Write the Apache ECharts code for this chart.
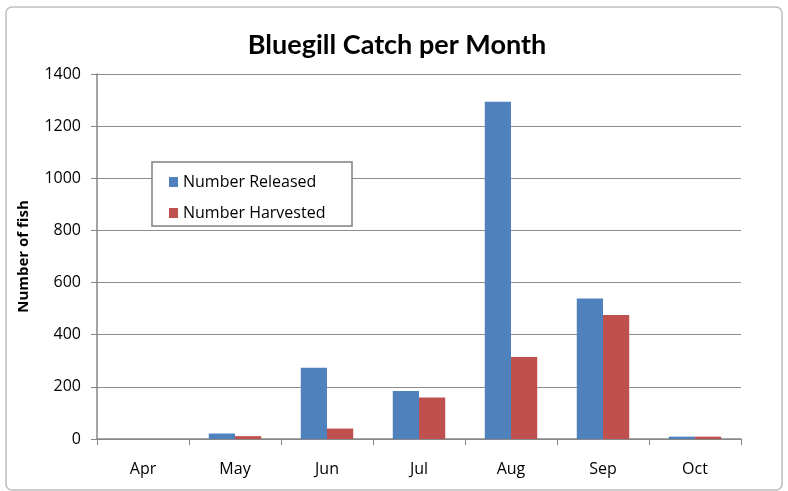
<!DOCTYPE html>
<html>
<head>
<meta charset="utf-8">
<script src="https://cdn.jsdelivr.net/npm/echarts@6/dist/echarts.min.js"></script>
<style>
  html, body { margin: 0; padding: 0; background: #fff; }
  #main { width: 788px; height: 491px; }
</style>
</head>
<body>
<div id="main"></div>
<script>
var months = ['Apr', 'May', 'Jun', 'Jul', 'Aug', 'Sep', 'Oct'];
var released = [0, 21, 273, 184, 1294, 539, 9];
var harvested = [0, 11, 40, 159, 315, 476, 9];
var yTicks = [0, 1400, 200];

var chart = echarts.init(document.getElementById('main'));
var font = 'Lato, "Open Sans", sans-serif';
var wide = '"Open Sans", Lato, sans-serif';

chart.setOption({
  animation: false,
  backgroundColor: '#fff',
  graphic: [{
    type: 'rect',
    shape: { x: 6, y: 7, width: 776, height: 483, r: 6 },
    style: { fill: 'none', stroke: '#bfbfbf', lineWidth: 1.5 }
  }, {
    type: 'rect',
    shape: { x: 152, y: 162, width: 200, height: 64 },
    style: { fill: '#fff', stroke: '#808080', lineWidth: 1.5 },
    z: 5
  }],
  title: {
    text: 'Bluegill Catch per Month',
    left: 392,
    top: 27,
    textAlign: 'center',
    textStyle: { fontFamily: font, fontWeight: 'bold', fontSize: 27, color: '#000' }
  },
  legend: {
    orient: 'vertical',
    left: 164,
    top: 169,
    itemWidth: 9,
    itemHeight: 10,
    itemGap: 15,
    icon: 'rect',
    z: 10,
    textStyle: { fontFamily: wide, fontSize: 16, color: '#000' },
    data: ['Number Released', 'Number Harvested']
  },
  grid: { left: 97, right: 47, top: 74, bottom: 52, containLabel: false },
  xAxis: {
    type: 'category',
    data: months,
    axisLine: { lineStyle: { color: '#868686', width: 1.5 } },
    axisTick: { show: true, length: 6, lineStyle: { color: '#868686' } },
    axisLabel: { fontFamily: wide, fontSize: 16, color: '#000', margin: 22 }
  },
  yAxis: {
    type: 'value',
    min: yTicks[0],
    max: yTicks[1],
    interval: yTicks[2],
    name: 'Number of fish',
    nameLocation: 'middle',
    nameGap: 66,
    nameRotate: 90,
    nameTextStyle: { fontFamily: wide, fontWeight: 'bold', fontSize: 15, color: '#000' },
    axisLine: { show: true, lineStyle: { color: '#868686', width: 1.5 } },
    axisTick: { show: true, length: 6, inside: false, lineStyle: { color: '#868686' } },
    axisLabel: { fontFamily: wide, fontSize: 16, color: '#000', margin: 16, formatter: function (v) { return String(v); } },
    splitLine: { lineStyle: { color: '#8c8c8c', width: 1.2 } }
  },
  series: [{
    name: 'Number Released',
    type: 'bar',
    data: released,
    barGap: '0%',
    barCategoryGap: '43%',
    itemStyle: { color: '#4f81bd' }
  }, {
    name: 'Number Harvested',
    type: 'bar',
    data: harvested,
    itemStyle: { color: '#c0504d' }
  }]
});
</script>
</body>
</html>
